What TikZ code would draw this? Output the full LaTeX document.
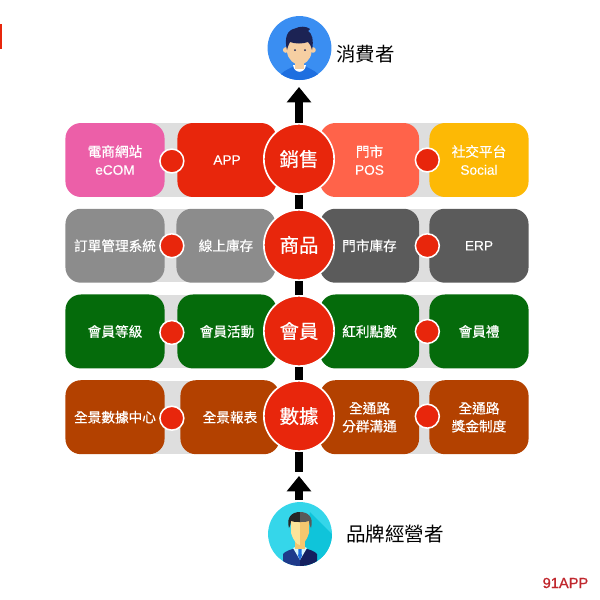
\documentclass[tikz,border=0pt]{standalone}
\usepackage{fontspec}
\setmainfont[FakeBold=0.25]{Liberation Sans}
\newfontfamily\cjk[FakeBold=0.5]{Noto Sans CJK TC}
\newfontfamily\cjkplain{Noto Sans CJK TC}
\newfontfamily\logofont[FakeBold=0.8]{Liberation Sans}
\usetikzlibrary{arrows.meta,positioning,fit,backgrounds,calc}
\definecolor{hubred}{HTML}{E8260C}
\definecolor{bandgray}{HTML}{DEDEDE}
\definecolor{ecompink}{HTML}{EC5FA8}
\definecolor{posred}{HTML}{FF634A}
\definecolor{socialgold}{HTML}{FDB905}
\definecolor{stockgray}{HTML}{8C8C8C}
\definecolor{erpgray}{HTML}{5B5B5B}
\definecolor{membergreen}{HTML}{056B0B}
\definecolor{databrown}{HTML}{B34100}
\definecolor{buyerblue}{HTML}{3A8EF2}
\definecolor{shirtblue}{HTML}{1E6FE0}
\definecolor{hairnavy}{HTML}{1C2354}
\definecolor{skin}{HTML}{F6CFA2}
\definecolor{ownercyan}{HTML}{35D6EA}
\definecolor{ownershade}{HTML}{0FC4DA}
\definecolor{suitnavy}{HTML}{1E3A8A}
\definecolor{suitdark}{HTML}{14205F}
\definecolor{facelight}{HTML}{FBE49A}
\definecolor{facedark}{HTML}{F5C76F}
\definecolor{logored}{HTML}{C0272D}
\tikzset{
    %Define style for boxes
    tile/.style={
           rectangle,
           rounded corners=11pt,
           minimum width=70.5pt,
           minimum height=52.6pt,
           inner sep=0pt,
           text=white,
           align=center,
           font=\fontsize{9.7}{12.8}\selectfont},
    %Define style for the round nodes
    hub/.style={
           circle,
           fill=hubred,
           draw=white,
           line width=1.2pt,
           minimum size=50pt,
           inner sep=0pt,
           text=white,
           font=\fontsize{13.8}{16}\selectfont\cjk},
    dot/.style={
           circle,
           fill=hubred,
           draw=white,
           line width=1.1pt,
           minimum size=17pt,
           inner sep=0pt},
    band/.style={
           fill=bandgray,
           inner ysep=-0.5pt,
           inner xsep=-30pt},
    % Define arrow style
    bar/.style={
           line width=5.6pt},
    pil/.style={
           line width=5.6pt,
           -{Triangle[width=17pt,length=11pt]}}
}

\begin{document}
\begin{tikzpicture}[x=0.025cm,y=-0.025cm,node distance=0.28cm]
    \useasboundingbox (0,0) rectangle (600,600);
    % first row
    \node (ecom) [tile,fill=ecompink] at (115,160)
          {{\cjk 電商網站}\\eCOM};
    \node (app) [tile,fill=hubred] at (227,160)
          {APP};
    \node (pos) [tile,fill=posred] at (369.5,160)
          {{\cjk 門市}\\POS};
    \node (social) [tile,fill=socialgold] at (479,160)
          {{\cjk 社交平台}\\Social};
    % second row
    \node (orders) [tile,fill=stockgray] [below=of ecom]
          {\cjk 訂單管理系統};
    \node (online) [tile,fill=stockgray] [below=of app,xshift=-0.025cm]
          {\cjk 線上庫存};
    \node (store) [tile,fill=erpgray] [below=of pos]
          {\cjk 門市庫存};
    \node (erp) [tile,fill=erpgray] [below=of social]
          {ERP};
    % third row
    \node (levels) [tile,fill=membergreen] [below=of orders]
          {\cjk 會員等級};
    \node (events) [tile,fill=membergreen] [below=of online,xshift=0.025cm]
          {\cjk 會員活動};
    \node (points) [tile,fill=membergreen] [below=of store]
          {\cjk 紅利點數};
    \node (gifts) [tile,fill=membergreen] [below=of erp]
          {\cjk 會員禮};
    % fourth row
    \node (center) [tile,fill=databrown] [below=of levels]
          {\cjk 全景數據中心};
    \node (report) [tile,fill=databrown] [below=of events,xshift=0.075cm]
          {\cjk 全景報表};
    \node (groups) [tile,fill=databrown] [below=of points]
          {\cjk 全通路\\\cjk 分群溝通};
    \node (bonus) [tile,fill=databrown] [below=of gifts]
          {\cjk 全通路\\\cjk 獎金制度};
    % grey bands behind each pair
    \begin{pgfonlayer}{background}
      \node (band1) [band,fit=(ecom) (app)] {};
      \node (band2) [band,fit=(pos) (social)] {};
      \node (band3) [band,fit=(orders) (online)] {};
      \node (band4) [band,fit=(store) (erp)] {};
      \node (band5) [band,fit=(levels) (events)] {};
      \node (band6) [band,fit=(points) (gifts)] {};
      \node (band7) [band,fit=(center) (report)] {};
      \node (band8) [band,fit=(groups) (bonus)] {};
    \end{pgfonlayer}
    % small dots
    \node (dot1) [dot] at ($(ecom.east)+(7,1)$) {};
    \node (dot2) [dot] at ($(pos.east)+(8,0)$) {};
    \node (dot3) [dot] at ($(orders.east)+(7,0)$) {};
    \node (dot4) [dot] at ($(store.east)+(8,0)$) {};
    \node (dot5) [dot] at ($(levels.east)+(7,1)$) {};
    \node (dot6) [dot] at ($(points.east)+(8,0)$) {};
    \node (dot7) [dot] at ($(center.east)+(7,1)$) {};
    \node (dot8) [dot] at ($(groups.east)+(8,-1)$) {};
    % hubs
    \node (sales) [hub] at (299,159) {銷售};
    \node (goods) [hub] at (299,245) {商品};
    \node (members) [hub] at (299,331) {會員};
    \node (data) [hub] at (299,416) {數據};
    % people
    \node (buyer) [circle,fill=buyerblue,minimum size=45.4pt,inner sep=0pt] at (299.5,48) {};
    \node (buyertext) [font=\fontsize{13.8}{16}\selectfont\cjkplain,anchor=west,inner sep=0pt] at (336,54) {消費者};
    \node (owner) [circle,fill=ownercyan,minimum size=45.4pt,inner sep=0pt] at (300,534) {};
    \node (ownertext) [font=\fontsize{13.9}{16}\selectfont\cjkplain,anchor=west,inner sep=0pt] at (346,534) {品牌經營者};
    \begin{scope}
      \clip (299.5,48) circle (32);
      \fill[shirtblue] (279,82) -- (281,74) .. controls (285,70) and (291,68) .. (294,66)
          -- (305,66) .. controls (308,68) and (314,70) .. (318,74) -- (320,82) -- cycle;
      \fill[white] (293,65) .. controls (294,74) and (305,74) .. (306,65) -- cycle;
      \fill[skin] (295,58) rectangle (304,69);
      \fill[skin] (285.7,50) circle (2.8) (313,50) circle (2.8);
      \fill[skin] (287,36) -- (311.5,36) -- (311.5,52)
          .. controls (311,60) and (304,65) .. (299.5,65)
          .. controls (295,65) and (288,60) .. (287,52) -- cycle;
      \fill[hairnavy] (287,50) .. controls (284,38) and (287,30) .. (295,28.5)
          .. controls (300,26) and (306,26) .. (310,29)
          .. controls (309,30) and (308.5,30.5) .. (308,31)
          .. controls (312,33) and (314,40) .. (312,50)
          .. controls (311,46) and (310,44) .. (308,42)
          .. controls (303,44) and (295,44) .. (290,42)
          .. controls (289,44) and (288,46) .. (287,50) -- cycle;
      \fill[hairnavy] (295,50) circle (1) (305,50) circle (1);
    \end{scope}
    \begin{scope}
      \clip (300,534) circle (32);
      \fill[ownershade] (310,512) -- (335,537) -- (335,570) -- (305,570) -- (305,540) -- cycle;
      % suit
      \fill[suitnavy] (283,570) -- (283,554) .. controls (285,551) and (292,549) .. (300,547) -- (300,570) -- cycle;
      \fill[suitdark] (317,570) -- (317,554) .. controls (315,551) and (308,549) .. (300,547) -- (300,570) -- cycle;
      \fill[white!80!ownercyan] (293,548) -- (300,545) -- (307,548) -- (300,560) -- cycle;
      \fill[shirtblue] (298.5,547) -- (301.5,547) -- (301.8,556) -- (300,560) -- (298.2,556) -- cycle;
      % neck and face
      \fill[facedark] (295,540) rectangle (305,549);
      \fill[facelight] (300,520) -- (291,520) -- (291,533)
          .. controls (293,540) and (297,545) .. (300,545) -- cycle;
      \fill[facedark] (300,520) -- (309,520) -- (309,533)
          .. controls (307,540) and (303,545) .. (300,545) -- cycle;
      % hair
      \fill[black!85] (289,528) .. controls (286,517) and (292,512) .. (300,512)
          -- (300,522) .. controls (296,522) and (293,522) .. (291,521)
          .. controls (291,524) and (290,526) .. (289,528) -- cycle;
      \fill[black!65] (311,528) .. controls (314,517) and (308,512) .. (300,512)
          -- (300,522) .. controls (304,522) and (307,522) .. (309,521)
          .. controls (309,524) and (310,526) .. (311,528) -- cycle;
    \end{scope}
    % logo and the red mark at the edge
    \node (logo) [anchor=east,text=logored,font=\fontsize{10.4}{12}\selectfont\logofont,inner sep=0pt] at (588.5,583) {91APP};
    \node (mark) [rectangle,fill=hubred,minimum width=1.4pt,minimum height=17.7pt,inner sep=0pt,anchor=north west] at (0,24) {};
    % connectors
    \coordinate (buyerin) at (299,87);
    \coordinate (ownerout) at (299,476);
    \coordinate (datastub) at (299,472);
    \coordinate (ownerstart) at (299,500);
    \begin{pgfonlayer}{background}
      \draw[bar] (sales) -- (goods);
      \draw[bar] (goods) -- (members);
      \draw[bar] (members) -- (data);
      \draw[bar] (data) -- (datastub);
      \draw[pil] (sales) -- (buyerin);
      \draw[pil] (ownerstart) -- (ownerout);
    \end{pgfonlayer}
\end{tikzpicture}
\end{document}
